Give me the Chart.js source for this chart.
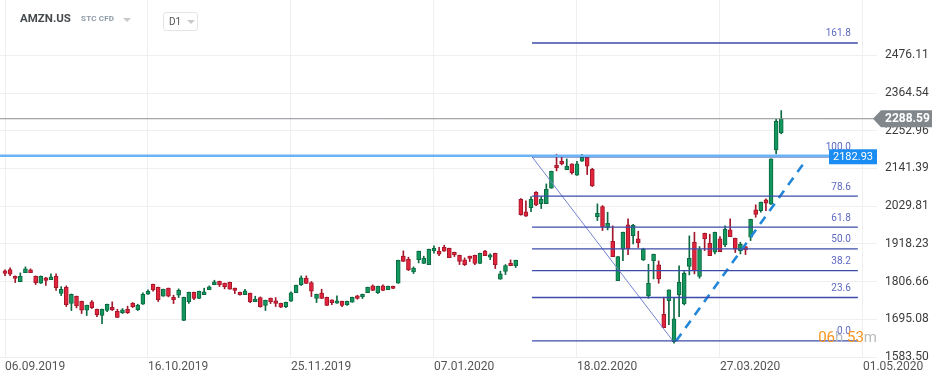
<!DOCTYPE html>
<html>
<head>
<meta charset="utf-8">
<script src="https://cdn.jsdelivr.net/npm/chart.js@4.4.0/dist/chart.umd.min.js"></script>
<style>
  html, body { margin: 0; padding: 0; background: #fff; }
  #wrap { position: relative; width: 945px; height: 383px; font-family: Roboto, sans-serif; }
  #chart { position: absolute; left: 0; top: 0; }
  .sym { position: absolute; left: 20px; top: 11px; font-size: 11.5px; font-weight: bold; color: #454a4e; }
  .kind { position: absolute; left: 81px; top: 14px; font-size: 8px; font-weight: bold; color: #8d9aa5; letter-spacing: 0.2px; }
  .tri { position: absolute; width: 0; height: 0; border-left: 4px solid transparent; border-right: 4px solid transparent; border-top: 4px solid #c6cacd; }
  .tf { position: absolute; left: 163px; top: 12px; width: 33px; height: 17px; border: 1px solid #e2e4e6; border-radius: 3px; background: #fff; }
  .tf span { position: absolute; left: 5px; top: 3px; font-size: 10px; color: #555; }
</style>
</head>
<body>
<div id="wrap">
  <canvas id="chart" width="945" height="383"></canvas>
  <div class="sym">AMZN.US</div>
  <div class="kind">STC CFD</div>
  <div class="tri" style="left:123px; top:18px;"></div>
  <div class="tf"><span>D1</span><div class="tri" style="left:23px; top:7px;"></div></div>
</div>
<script>
// bottom axis labels and the bar index each one sits on
const tickLabels = ['06.09.2019', '16.10.2019', '25.11.2019', '07.01.2020', '18.02.2020', '27.03.2020', '01.05.2020'];
const tickBars = [0, 28, 56, 84, 112, 140, 168];
const yTicks = [1583.50, 1695.08, 1806.66, 1918.23, 2029.81, 2141.39, 2252.96, 2364.54, 2476.11];

// daily candles
const open = [1838.4, 1842.3, 1822.6, 1806.8, 1833.4, 1841.3, 1822.6, 1801.9, 1817.6, 1812.7,
  1822.6, 1771.3, 1790.0, 1741.7, 1763.4, 1748.6, 1722.0, 1746.6, 1724.9, 1706.2,
  1721.0, 1730.8, 1719.0, 1715.0, 1724.9, 1742.7, 1723.9, 1739.7, 1769.3, 1798.9,
  1790.0, 1763.4, 1787.1, 1760.4, 1766.3, 1691.4, 1747.6, 1775.2, 1756.5, 1768.3,
  1783.1, 1797.9, 1807.8, 1801.9, 1804.8, 1787.1, 1775.2, 1768.3, 1772.3, 1747.6,
  1759.4, 1735.8, 1757.5, 1749.6, 1742.7, 1732.8, 1748.6, 1774.2, 1797.9, 1816.7,
  1803.8, 1756.5, 1772.3, 1760.4, 1752.5, 1742.7, 1748.6, 1738.7, 1745.6, 1764.4,
  1761.4, 1774.2, 1794.0, 1774.2, 1794.0, 1783.1, 1793.0, 1801.9, 1881.8, 1872.9,
  1835.4, 1871.9, 1860.1, 1857.1, 1898.5, 1896.6, 1908.4, 1905.4, 1893.6, 1884.7,
  1870.9, 1881.8, 1884.7, 1860.1, 1896.6, 1878.8, 1890.6, 1813.7, 1836.4, 1861.0,
  1854.1, 2050.4, 2012.9, 2025.7, 2071.1, 2037.6, 2037.6, 2083.0, 2151.0, 2162.9,
  2138.2, 2155.0, 2121.4, 2162.9, 2174.7, 2139.2, 1999.1, 2028.7, 1965.6, 1926.1,
  1809.7, 1902.4, 1974.4, 1942.9, 1933.0, 1870.9, 1764.3, 1868.9, 1856.1, 1710.1,
  1750.5, 1629.2, 1767.3, 1740.7, 1851.2, 1923.2, 1821.6, 1949.8, 1920.2, 1893.6,
  1933.0, 1915.3, 1959.7, 1935.0, 1898.5, 1910.3, 1938.0, 2018.9, 2016.9, 2048.4,
  2035.6, 2196.4, 2247.7];
const high = [1841.3, 1847.2, 1823.5, 1832.4, 1850.2, 1844.3, 1823.5, 1823.5, 1819.6, 1829.5,
  1829.5, 1792.0, 1794.0, 1770.0, 1764.0, 1749.0, 1737.0, 1750.6, 1725.5, 1725.5,
  1740.0, 1746.6, 1724.9, 1726.9, 1733.8, 1744.6, 1739.7, 1773.3, 1782.1, 1799.5,
  1790.5, 1784.5, 1787.5, 1766.3, 1785.1, 1760.8, 1775.5, 1775.5, 1778.5, 1787.1,
  1794.0, 1810.7, 1808.2, 1802.3, 1805.2, 1787.5, 1775.5, 1784.1, 1772.7, 1763.4,
  1761.4, 1752.0, 1758.0, 1759.4, 1743.0, 1746.0, 1776.2, 1796.3, 1823.6, 1823.6,
  1806.8, 1769.7, 1784.1, 1760.8, 1752.9, 1764.4, 1749.0, 1749.0, 1760.8, 1766.3,
  1769.7, 1790.4, 1796.9, 1793.3, 1796.9, 1793.3, 1793.3, 1870.3, 1897.6, 1878.8,
  1850.2, 1897.0, 1881.8, 1902.9, 1912.3, 1908.4, 1914.3, 1905.8, 1894.0, 1885.1,
  1876.8, 1882.2, 1885.1, 1890.9, 1899.5, 1888.7, 1890.9, 1837.4, 1857.1, 1870.9,
  1870.2, 2052.4, 2045.5, 2058.3, 2073.1, 2058.3, 2095.8, 2133.6, 2183.6, 2177.7,
  2169.8, 2155.4, 2162.9, 2183.6, 2175.1, 2142.1, 2036.6, 2031.7, 2012.0, 1971.5,
  1881.0, 1953.0, 1992.2, 1976.4, 1955.7, 1905.4, 1858.0, 1888.0, 1867.9, 1760.4,
  1782.4, 1757.4, 1853.1, 1836.4, 1941.9, 1952.7, 1910.3, 1950.2, 1946.8, 1953.0,
  1939.9, 1971.5, 1992.2, 1935.4, 1923.2, 1910.7, 1991.5, 2033.7, 2042.0, 2051.4,
  2170.1, 2287.2, 2312.8];
const low = [1824.5, 1824.5, 1803.8, 1806.0, 1833.0, 1833.0, 1797.9, 1801.0, 1795.0, 1812.0,
  1780.2, 1765.4, 1732.8, 1721.0, 1728.9, 1712.1, 1706.2, 1726.9, 1703.2, 1682.5,
  1718.0, 1721.0, 1700.0, 1712.1, 1712.1, 1729.8, 1721.0, 1739.0, 1769.0, 1778.2,
  1747.6, 1763.0, 1761.4, 1741.7, 1759.4, 1691.0, 1741.7, 1753.5, 1756.0, 1768.0,
  1783.0, 1797.5, 1792.0, 1785.1, 1784.0, 1771.3, 1766.3, 1768.0, 1744.6, 1747.2,
  1730.8, 1721.0, 1741.7, 1732.8, 1729.8, 1729.8, 1748.2, 1774.0, 1795.0, 1800.5,
  1762.4, 1744.6, 1756.2, 1735.5, 1738.7, 1742.4, 1732.8, 1735.8, 1745.3, 1754.5,
  1756.5, 1774.0, 1780.0, 1771.3, 1780.0, 1783.0, 1786.0, 1801.5, 1865.7, 1839.3,
  1830.5, 1862.0, 1859.8, 1856.8, 1890.6, 1883.7, 1896.2, 1877.5, 1880.8, 1857.1,
  1854.1, 1866.0, 1857.1, 1859.8, 1883.4, 1871.9, 1845.3, 1813.4, 1827.5, 1853.8,
  1848.2, 2003.1, 1999.8, 2013.9, 2031.7, 2022.8, 2037.3, 2082.7, 2134.3, 2152.0,
  2137.9, 2124.4, 2121.1, 2162.6, 2123.4, 2087.9, 1987.3, 1957.7, 1959.7, 1880.4,
  1809.4, 1868.9, 1886.6, 1918.2, 1907.4, 1868.9, 1757.4, 1814.7, 1801.8, 1670.3,
  1679.5, 1624.3, 1703.2, 1737.7, 1826.5, 1829.4, 1816.6, 1898.5, 1883.4, 1888.6,
  1895.2, 1910.3, 1939.6, 1892.6, 1888.6, 1886.6, 1928.1, 1997.2, 2012.0, 2016.9,
  2035.3, 2184.6, 2243.8];
const close = [1830.5, 1828.5, 1815.7, 1822.6, 1844.3, 1833.4, 1803.8, 1822.6, 1809.8, 1820.6,
  1789.0, 1784.1, 1738.7, 1769.3, 1734.8, 1722.0, 1736.8, 1729.8, 1709.1, 1724.9,
  1739.7, 1723.9, 1700.3, 1722.9, 1715.0, 1732.8, 1736.8, 1769.3, 1778.2, 1782.1,
  1753.5, 1784.1, 1763.4, 1753.5, 1781.1, 1760.4, 1775.2, 1756.5, 1778.2, 1776.2,
  1791.0, 1805.8, 1797.9, 1792.0, 1784.1, 1780.2, 1768.3, 1779.2, 1747.6, 1754.5,
  1732.8, 1751.5, 1747.6, 1741.7, 1730.8, 1745.6, 1773.3, 1795.9, 1817.6, 1800.9,
  1778.2, 1769.3, 1756.5, 1735.8, 1744.6, 1749.6, 1735.8, 1748.6, 1760.4, 1756.5,
  1769.3, 1790.0, 1780.2, 1793.0, 1780.2, 1793.0, 1786.1, 1869.9, 1866.0, 1841.3,
  1846.3, 1896.6, 1875.8, 1902.5, 1905.4, 1887.7, 1896.6, 1877.8, 1885.7, 1866.0,
  1857.1, 1874.9, 1860.1, 1890.6, 1883.7, 1885.7, 1857.1, 1829.5, 1854.1, 1854.1,
  1869.9, 2005.0, 2000.1, 2050.4, 2033.6, 2050.4, 2080.0, 2133.3, 2144.1, 2155.0,
  2148.1, 2129.3, 2155.0, 2174.7, 2148.1, 2089.9, 2009.0, 1967.6, 1979.4, 1880.7,
  1880.7, 1952.7, 1903.4, 1973.4, 1922.2, 1902.4, 1801.8, 1887.7, 1814.7, 1670.6,
  1782.1, 1696.3, 1804.8, 1831.4, 1875.8, 1838.3, 1901.4, 1933.0, 1883.7, 1952.7,
  1895.5, 1961.6, 1939.9, 1902.4, 1917.3, 1900.5, 1991.2, 2005.1, 2041.6, 2038.6,
  2169.8, 2281.3, 2288.59];

// drawings on the chart
const lastPrice = 2288.59;
const levelText = '2182.93';
const levelLine = 2179;
const fibLevels = [0, 23.6, 38.2, 50, 61.8, 78.6, 100, 161.8];
const fibLow = 1631;
const fibHigh = 2176;
const fibFrom = 103.2, fibTo = 167.0;
const legDown = [[103.2, 2176], [130.8, 1631]];
const legUp = [[131.4, 1631], [156.6, 2160.9]];

const GREEN = '#14975e', GREEN_DARK = '#0b6a41';
const RED = '#e2243c', RED_DARK = '#a3172a';

const bars = open.map((o, i) => i);
const isUp = bars.map(i => close[i] >= open[i]);

function hline(y, from, to, color, width) {
  return {
    type: 'line', data: [{x: from, y: y}, {x: to, y: y}],
    borderColor: color, borderWidth: width, pointRadius: 0, fill: false, order: 0
  };
}

const datasets = [
  hline(lastPrice, -2, 172, '#8b9094', 1),
  hline(levelLine, -2, 172, '#6ab3f5', 2.5),
];
fibLevels.forEach(l => {
  datasets.push(hline(fibLow + (fibHigh - fibLow) * l / 100, fibFrom, fibTo, '#3b4cad', 1.3));
});
datasets.push({
  type: 'line', data: legDown.map(p => ({x: p[0], y: p[1]})),
  borderColor: '#7583cf', borderWidth: 1, pointRadius: 0, order: 0
});
datasets.push({
  type: 'line', data: legUp.map(p => ({x: p[0], y: p[1]})),
  borderColor: '#2287d8', borderWidth: 2.6, borderDash: [9, 7], pointRadius: 0, order: 0
});
datasets.push({
  type: 'bar', data: bars.map(i => ({x: i, y: [low[i], high[i]]})),
  backgroundColor: isUp.map(u => u ? GREEN_DARK : RED_DARK),
  grouped: false, barThickness: 1, maxBarThickness: 1, order: 2
});
datasets.push({
  type: 'bar', data: bars.map(i => ({x: i, y: [open[i], close[i]]})),
  backgroundColor: isUp.map(u => u ? GREEN : RED),
  borderColor: isUp.map(u => u ? GREEN_DARK : RED_DARK),
  borderWidth: 1, borderSkipped: false,
  grouped: false, barThickness: 4, maxBarThickness: 4, order: 1
});

const overlay = {
  id: 'overlay',
  afterDraw(c) {
    const ctx = c.ctx, xs = c.scales.x, ys = c.scales.y, area = c.chartArea;
    ctx.save();

    ctx.font = '10px Roboto';
    ctx.fillStyle = '#5d68c2';
    ctx.textAlign = 'right';
    ctx.textBaseline = 'middle';
    fibLevels.forEach(l => {
      const v = fibLow + (fibHigh - fibLow) * l / 100;
      ctx.fillText(l.toFixed(1), xs.getPixelForValue(fibTo) - 7, ys.getPixelForValue(v) - 9);
    });

    // level box
    let py = ys.getPixelForValue(levelLine);
    ctx.fillStyle = '#1a8cf2';
    ctx.fillRect(area.right - 48, py - 6.5, 48, 15);
    ctx.fillStyle = '#fff';
    ctx.font = '11px Roboto';
    ctx.textAlign = 'left';
    ctx.fillText(levelText, area.right - 44, py + 1);

    // last price tag
    py = ys.getPixelForValue(lastPrice);
    ctx.fillStyle = '#81878b';
    ctx.beginPath();
    ctx.moveTo(area.right - 4, py);
    ctx.lineTo(area.right + 4, py - 8.5);
    ctx.lineTo(area.right + 55, py - 8.5);
    ctx.lineTo(area.right + 55, py + 8.5);
    ctx.lineTo(area.right + 4, py + 8.5);
    ctx.closePath();
    ctx.fill();
    ctx.fillStyle = '#fff';
    ctx.font = 'bold 12px Roboto';
    ctx.fillText(lastPrice.toFixed(2), area.right + 8, py + 0.5);

    // candle countdown
    const parts = [['06', '#f7941d'], ['h ', '#b9bcbe'], ['53', '#f7941d'], ['m', '#b9bcbe']];
    ctx.font = '15px Roboto';
    let w = 0;
    parts.forEach(p => { w += ctx.measureText(p[0]).width; });
    let tx = area.right - w;
    parts.forEach(p => {
      ctx.fillStyle = p[1];
      ctx.fillText(p[0], tx, 338);
      tx += ctx.measureText(p[0]).width;
    });
    ctx.restore();
  }
};

Chart.defaults.font.family = 'Roboto';

new Chart(document.getElementById('chart'), {
  type: 'bar',
  data: { datasets: datasets },
  options: {
    responsive: false,
    animation: false,
    layout: { padding: 0 },
    plugins: { legend: { display: false }, tooltip: { enabled: false } },
    scales: {
      x: {
        type: 'linear', min: -0.98, max: 170.75, offset: false,
        grid: { color: '#efefef', drawTicks: false, offset: false },
        border: { display: false },
        ticks: {
          align: 'start', padding: 3, maxRotation: 0, autoSkip: false,
          color: '#555', font: { size: 12 },
          callback: v => { const k = tickBars.indexOf(v); return k < 0 ? '' : tickLabels[k]; }
        },
        afterBuildTicks: a => { a.ticks = tickBars.map(v => ({ value: v })); },
        afterFit: a => { a.height = 26; a.paddingLeft = 0; a.paddingRight = 0; }
      },
      y: {
        type: 'linear', position: 'right', min: 1583.5, max: 2640, beginAtZero: false,
        grid: { color: '#efefef', drawTicks: false },
        border: { display: false },
        ticks: { padding: 8, color: '#3c3c3c', font: { size: 12 }, callback: v => v.toFixed(2) },
        afterBuildTicks: a => { a.ticks = yTicks.map(v => ({ value: v })); },
        afterFit: a => { a.width = 68; a.paddingTop = 0; a.paddingBottom = 0; }
      }
    }
  },
  plugins: [overlay]
});
</script>
</body>
</html>
